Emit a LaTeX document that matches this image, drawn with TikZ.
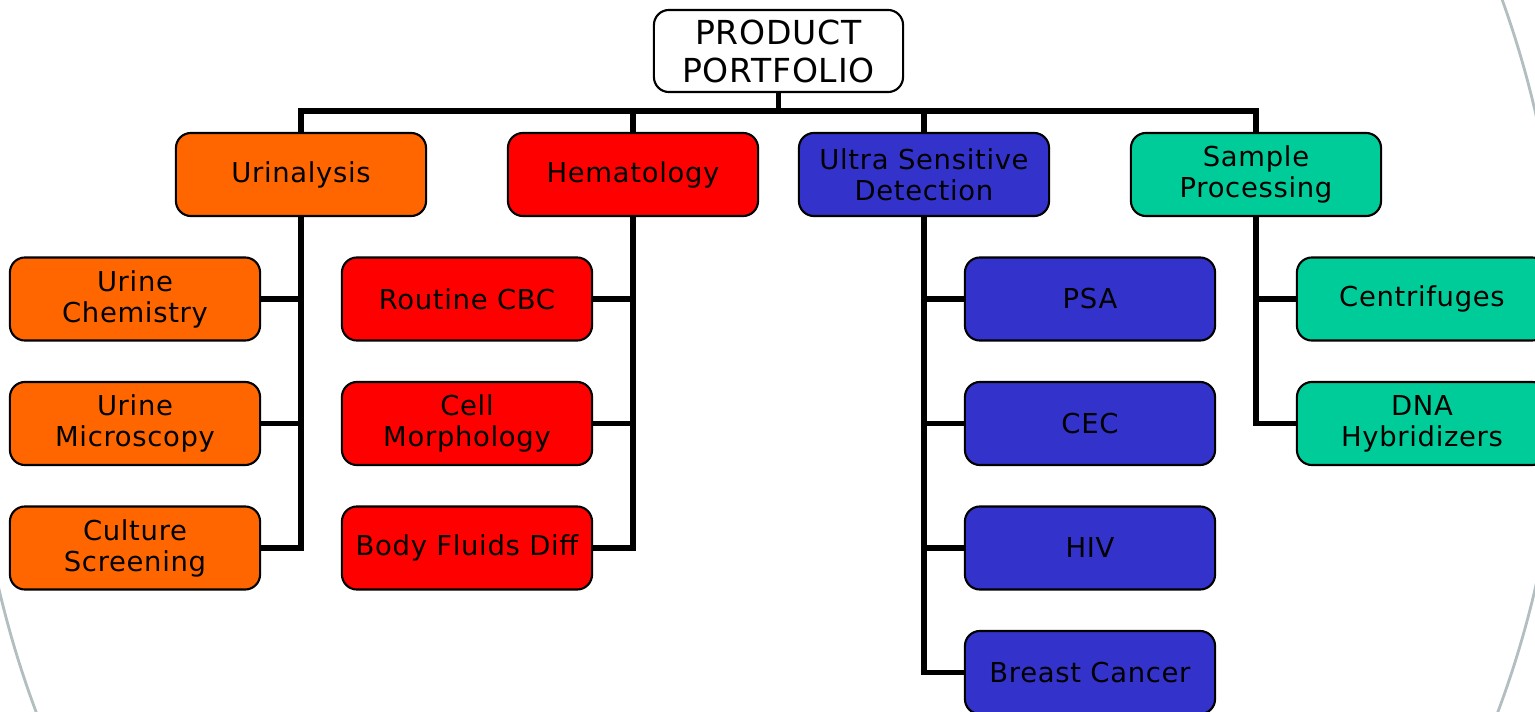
\documentclass[tikz,border=0pt]{standalone}
\usepackage{fontspec}
\setmainfont[LetterSpace=2.5]{DejaVu Sans}
\definecolor{urin}{HTML}{FF6600}
\definecolor{hema}{HTML}{FF0000}
\definecolor{usd}{HTML}{3333CC}
\definecolor{samp}{HTML}{00CC99}
\definecolor{fondo}{RGB}{178,190,192}
\begin{document}
\begin{tikzpicture}[x=0.01cm, y=-0.01cm,
    caja/.style={draw=black, line width=0.6pt, rounded corners=0.15cm,
      minimum width=2.5cm, minimum height=0.83cm, inner sep=0pt,
      align=center, font=\fontsize{7.8}{8.8}\selectfont},
    linea/.style={line width=1.7pt}]
	\useasboundingbox (0,0) rectangle (1535,712);
	\clip (0,0) rectangle (1535,712);
	% Fondo
	\begin{scope}
		\clip (0,250) rectangle (1535,712) (200,0) rectangle (1535,250);
		\draw[line width=0.8pt, fondo] (767,350) ellipse [x radius=7.95cm, y radius=9.15cm];
	\end{scope}
	% Raiz
		\node[caja, fill=white, minimum width=2.49cm, minimum height=0.82cm,
		  font=\fontsize{9.4}{10.8}\selectfont] (root) at (778.5,51) {PRODUCT\\PORTFOLIO};
	% Primer nivel
		\node[caja, fill=urin] (urin) at (301,174.5) {Urinalysis};
		\node[caja, fill=hema] (hema) at (633,174.5) {Hematology};
		\node[caja, fill=usd]  (usd)  at (924,174.5) {Ultra Sensitive\\Detection};
		\node[caja, fill=samp] (samp) at (1256,174.5) {Sample\\Processing};
	% Segundo nivel
		\node[caja, fill=urin] (uchem)  at (135,299)   {Urine\\Chemistry};
		\node[caja, fill=urin] (umicro) at (135,423.5) {Urine\\Microscopy};
		\node[caja, fill=urin] (ucult)  at (135,548)   {Culture\\Screening};
		\node[caja, fill=hema] (cbc)    at (467,299)   {Routine CBC};
		\node[caja, fill=hema] (morph)  at (467,423.5) {Cell\\Morphology};
		\node[caja, fill=hema] (fluids) at (467,548)   {Body Fluids Diff};
		\node[caja, fill=usd]  (psa)    at (1090,299)   {PSA};
		\node[caja, fill=usd]  (cec)    at (1090,423.5) {CEC};
		\node[caja, fill=usd]  (hiv)    at (1090,548)   {HIV};
		\node[caja, fill=usd]  (breast) at (1090,672.5) {Breast Cancer};
		\node[caja, fill=samp] (centri) at (1422,299)   {Centrifuges};
		\node[caja, fill=samp] (dna)    at (1422,423.5) {DNA\\Hybridizers};
	% Conectores
		\coordinate (bus) at (778.5,111);
		\draw[linea] (root.south) -- (bus);
		\draw[linea] (urin.north) |- (bus) -| (samp.north);
		\draw[linea] (hema.north) -- (hema.north |- bus);
		\draw[linea] (usd.north) -- (usd.north |- bus);
		\draw[linea] (urin.south) |- (ucult.east);
		\foreach \c in {uchem, umicro}
			\draw[linea] (\c.east) -- (\c.east -| urin.south);
		\draw[linea] (hema.south) |- (fluids.east);
		\foreach \c in {cbc, morph}
			\draw[linea] (\c.east) -- (\c.east -| hema.south);
		\draw[linea] (usd.south) |- (breast.west);
		\foreach \c in {psa, cec, hiv}
			\draw[linea] (\c.west) -- (\c.west -| usd.south);
		\draw[linea] (samp.south) |- (dna.west);
		\draw[linea] (centri.west) -- (centri.west -| samp.south);
\end{tikzpicture}
\end{document}
